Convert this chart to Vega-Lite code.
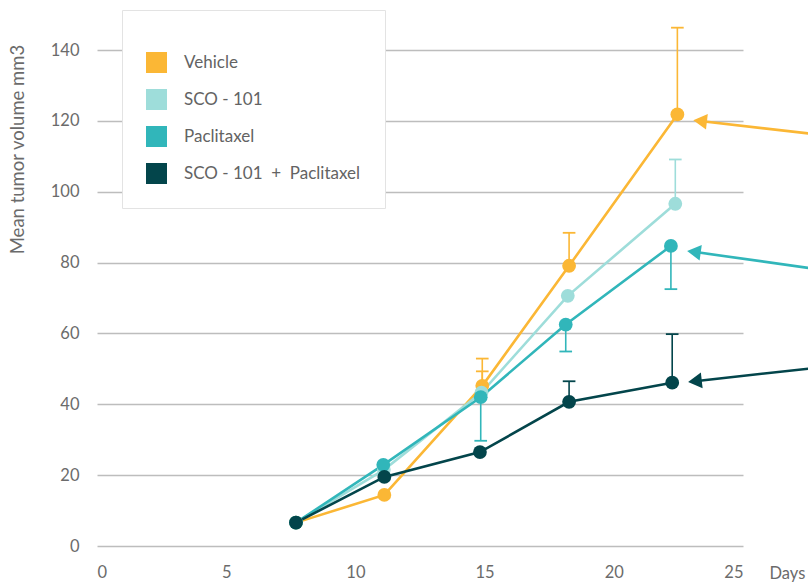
{
  "$schema": "https://vega.github.io/schema/vega-lite/v6.json",
  "width": 646,
  "height": 496,
  "autosize": {"type": "none"},
  "padding": {"left": 97, "top": 50, "right": 65, "bottom": 39},
  "background": "white",
  "config": {
    "view": {"stroke": null},
    "font": "Lato",
    "axis": {"labelFont": "Lato", "titleFont": "Lato", "labelColor": "#6b6b6b", "titleColor": "#6b6b6b", "titleFontWeight": "normal"},
    "legend": {"labelFont": "Lato", "titleFont": "Lato"}
  },
  "datasets": {
    "series": [
      {"series": "Vehicle", "day": 7.7, "volume": 6.6},
      {"series": "Vehicle", "day": 11.12, "volume": 14.4},
      {"series": "Vehicle", "day": 14.91, "volume": 45.2},
      {"series": "Vehicle", "day": 18.27, "volume": 79.1},
      {"series": "Vehicle", "day": 22.46, "volume": 121.8},
      {"series": "SCO - 101", "day": 7.7, "volume": 6.6},
      {"series": "SCO - 101", "day": 11.1, "volume": 21.5},
      {"series": "SCO - 101", "day": 14.88, "volume": 43.3},
      {"series": "SCO - 101", "day": 18.22, "volume": 70.6},
      {"series": "SCO - 101", "day": 22.38, "volume": 96.6},
      {"series": "Paclitaxel", "day": 7.7, "volume": 6.6},
      {"series": "Paclitaxel", "day": 11.08, "volume": 22.9},
      {"series": "Paclitaxel", "day": 14.85, "volume": 42.0},
      {"series": "Paclitaxel", "day": 18.14, "volume": 62.5},
      {"series": "Paclitaxel", "day": 22.21, "volume": 84.7},
      {"series": "SCO - 101\u00a0 +\u00a0 Paclitaxel", "day": 7.7, "volume": 6.6},
      {"series": "SCO - 101\u00a0 +\u00a0 Paclitaxel", "day": 11.12, "volume": 19.5},
      {"series": "SCO - 101\u00a0 +\u00a0 Paclitaxel", "day": 14.82, "volume": 26.5},
      {"series": "SCO - 101\u00a0 +\u00a0 Paclitaxel", "day": 18.27, "volume": 40.7},
      {"series": "SCO - 101\u00a0 +\u00a0 Paclitaxel", "day": 22.26, "volume": 46.1}
    ],
    "errors": [
      {"series": "Vehicle", "day": 14.91, "from": 45.2, "to": 52.9},
      {"series": "Vehicle", "day": 14.91, "from": 45.2, "to": 49.3},
      {"series": "Vehicle", "day": 18.27, "from": 79.1, "to": 88.4},
      {"series": "Vehicle", "day": 22.46, "from": 121.8, "to": 146.3},
      {"series": "SCO - 101", "day": 22.38, "from": 96.6, "to": 109.1},
      {"series": "Paclitaxel", "day": 14.85, "from": 42.0, "to": 29.7},
      {"series": "Paclitaxel", "day": 18.14, "from": 62.5, "to": 54.9},
      {"series": "Paclitaxel", "day": 22.21, "from": 84.7, "to": 72.5},
      {"series": "SCO - 101\u00a0 +\u00a0 Paclitaxel", "day": 18.27, "from": 40.7, "to": 46.5},
      {"series": "SCO - 101\u00a0 +\u00a0 Paclitaxel", "day": 22.26, "from": 46.1, "to": 59.8}
    ],
    "arrows": [
      {"series": "Vehicle", "tailDay": 27.52, "tailVol": 116.45, "headDay": 23.34, "headVol": 119.97},
      {"series": "Paclitaxel", "tailDay": 27.52, "tailVol": 78.5, "headDay": 23.1, "headVol": 83.03},
      {"series": "SCO - 101\u00a0 +\u00a0 Paclitaxel", "tailDay": 27.52, "tailVol": 50.05, "headDay": 23.14, "headVol": 46.52}
    ]
  },
  "encoding": {
    "color": {
      "field": "series",
      "type": "nominal",
      "scale": {
        "domain": ["Vehicle", "SCO - 101", "Paclitaxel", "SCO - 101\u00a0 +\u00a0 Paclitaxel"],
        "range": ["#FBB735", "#9EDDDA", "#31B6BA", "#03454B"]
      },
      "legend": {
        "orient": "none", "legendX": 25, "legendY": -40,
        "title": " ", "titleFontSize": 10, "titlePadding": 8,
        "padding": 24, "fillColor": "white", "strokeColor": "#e3e3e3",
        "symbolType": "square", "symbolSize": 441, "symbolStrokeWidth": 0, "symbolOpacity": 1,
        "labelFontSize": 17, "labelColor": "#636363", "labelOffset": 17, "rowPadding": 16, "labelLimit": 400
      }
    }
  },
  "layer": [
    {
      "data": {"name": "errors"},
      "mark": {"type": "rule", "strokeWidth": 1.6},
      "encoding": {
        "x": {"field": "day", "type": "quantitative", "scale": {"domain": [0, 25], "nice": false, "zero": false},
          "axis": {"values": [0, 5, 10, 15, 20, 25], "grid": false, "ticks": false, "domain": false, "labelFontSize": 16.5, "labelPadding": 18,
            "title": "Days", "titleFontSize": 16.5, "titleAngle": 0, "titleAlign": "left", "titleBaseline": "top", "titleX": 672, "titleY": 19}},
        "y": {"field": "from", "type": "quantitative", "scale": {"domain": [0, 140], "nice": false},
          "axis": {"values": [0, 20, 40, 60, 80, 100, 120, 140], "grid": true, "gridColor": "#bdbdbd", "gridWidth": 1.6, "ticks": false, "domain": false,
            "labelFontSize": 16.5, "labelPadding": 18, "title": "Mean tumor volume mm3", "titleFontSize": 18.5, "titleAngle": -90,
            "titleAlign": "center", "titleBaseline": "middle", "titleX": -80, "titleY": 99}},
        "y2": {"field": "to"}
      }
    },
    {
      "data": {"name": "errors"},
      "mark": {"type": "point", "shape": "M-1,0L1,0", "filled": false, "strokeWidth": 1.8, "size": 160, "opacity": 1},
      "encoding": {
        "x": {"field": "day", "type": "quantitative"},
        "y": {"field": "to", "type": "quantitative"}
      }
    },
    {
      "data": {"name": "series"},
      "mark": {"type": "line", "strokeWidth": 2.6},
      "encoding": {
        "x": {"field": "day", "type": "quantitative"},
        "y": {"field": "volume", "type": "quantitative"}
      }
    },
    {
      "data": {"name": "series"},
      "mark": {"type": "point", "filled": true, "size": 190, "opacity": 1},
      "encoding": {
        "x": {"field": "day", "type": "quantitative"},
        "y": {"field": "volume", "type": "quantitative"}
      }
    },
    {
      "data": {"name": "arrows"},
      "mark": {"type": "rule", "strokeWidth": 2.6},
      "encoding": {
        "x": {"field": "tailDay", "type": "quantitative"},
        "y": {"field": "tailVol", "type": "quantitative"},
        "x2": {"field": "headDay"},
        "y2": {"field": "headVol"}
      }
    },
    {
      "data": {"name": "arrows"},
      "transform": [{"filter": "datum.series == 'Vehicle'"}],
      "mark": {"type": "point", "shape": "triangle-left", "filled": true, "size": 250, "angle": 6.6, "opacity": 1},
      "encoding": {
        "x": {"field": "headDay", "type": "quantitative"},
        "y": {"field": "headVol", "type": "quantitative"}
      }
    },
    {
      "data": {"name": "arrows"},
      "transform": [{"filter": "datum.series == 'Paclitaxel'"}],
      "mark": {"type": "point", "shape": "triangle-left", "filled": true, "size": 250, "angle": 8, "opacity": 1},
      "encoding": {
        "x": {"field": "headDay", "type": "quantitative"},
        "y": {"field": "headVol", "type": "quantitative"}
      }
    },
    {
      "data": {"name": "arrows"},
      "transform": [{"filter": "datum.series != 'Vehicle' && datum.series != 'Paclitaxel'"}],
      "mark": {"type": "point", "shape": "triangle-left", "filled": true, "size": 250, "angle": 353.7, "opacity": 1},
      "encoding": {
        "x": {"field": "headDay", "type": "quantitative"},
        "y": {"field": "headVol", "type": "quantitative"}
      }
    }
  ]
}
